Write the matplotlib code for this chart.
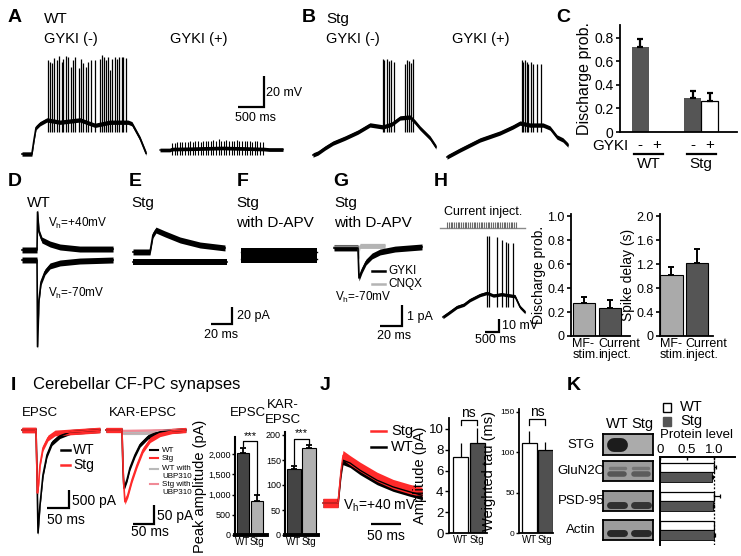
import numpy as np
import matplotlib
matplotlib.use("Agg")
import matplotlib.pyplot as plt
import matplotlib.transforms as mtransforms
from matplotlib.patches import Rectangle
from matplotlib.lines import Line2D

plt.rcParams['font.family'] = ['Liberation Sans', 'DejaVu Sans']
plt.rcParams['mathtext.fontset'] = 'custom'
plt.rcParams['mathtext.rm'] = 'Liberation Sans'

W, H = 741, 556

# ---------------- values ----------------
# A  WT: membrane potential (mV above rest) vs time (ms)
a_wt_t = [0, 190, 230, 270, 345, 480, 730, 1115, 1405, 1690, 2040, 2115, 2270, 2385]
a_wt_v = [0, 0, 9, 17, 19.5, 22, 20.5, 22, 18.5, 20.5, 20.5, 19.5, 10, 0.5]
a_wt_spk = [494, 538, 583, 621, 667, 712, 763, 794, 846, 890, 937, 975, 1019, 1090,
            1135, 1179, 1231, 1275, 1321, 1404, 1500, 1533, 1577, 1615, 1648, 1692,
            1737, 1788, 1821, 1865, 1917, 1948, 2000]
a_wt_peak = [60.6, 59.3, 58.7, 61.9, 60.6, 63.2, 59.3, 61.3, 63.2, 62.6, 56.1, 60.6,
             62.6, 55.5, 61.3, 58.7, 56.1, 59.3, 60.6, 60.6, 61.3, 63.9, 62.6, 60.6,
             62.6, 54.2, 61.3, 62.6, 61.3, 62.6, 62.6, 62.6, 61.9]
a_wt_trough = 14

# A  WT + GYKI: baseline and stimulus-locked deflections
a_gp_t = [0, 190, 230, 600, 1200, 1800, 2000, 2100, 2365]
a_gp_v = [0, 0, 0.6, 0.8, 1.3, 0.8, 0.6, 0.3, 0.3]
a_gp_art = [231, 281, 330, 380, 430, 480, 530, 579, 629, 679, 729, 779, 828, 878,
            928, 978, 1028, 1077, 1127, 1177, 1227, 1277, 1326, 1376, 1426, 1476,
            1526, 1575, 1625, 1675, 1725, 1775, 1824, 1874, 1924, 1974]
a_gp_top = [4.5, 4.8, 5.2, 5.2, 5.4, 5.4, 5.2, 5.6, 5.4, 5.6, 5.8, 5.4, 5.6, 6.0,
            5.6, 5.8, 6.2, 5.6, 6.9, 5.8, 6.0, 6.2, 5.6, 5.8, 6.0, 6.4, 5.8, 5.6,
            6.0, 5.8, 5.6, 5.4, 5.8, 5.6, 5.2, 5.4]
a_gp_low = -3.5

# B  Stg, GYKI(-)
b_m_t = [0, 96, 231, 385, 615, 865, 1096, 1346, 1519, 1673, 1865, 1961, 2058, 2250, 2365]
b_m_v = [0, 1.3, 4.5, 7.7, 10.9, 14.8, 19.4, 18.1, 20, 23.9, 24.5, 21.3, 17.4, 11, 5.2]
b_m_spk = [1340, 1371, 1417, 1455, 1500, 1564, 1769, 1801, 1846, 1878, 1917]
b_m_peak = [62, 61, 62, 60.6, 61.3, 60, 58.7, 61.3, 60.6, 59.3, 61.9]
b_m_trough = 15
# B  Stg, GYKI(+)
b_p_t = [0, 250, 635, 1019, 1269, 1404, 1596, 1846, 1980, 2115, 2230, 2327]
b_p_v = [0, 4.5, 11, 15.5, 19.4, 21.9, 20.6, 20.6, 18.7, 12.9, 11, 7.7]
b_p_spk = [1436, 1468, 1500, 1532, 1564, 1609, 1660, 1724, 1801]
b_p_peak = [62.6, 61.3, 62.6, 61.3, 60, 61.3, 60, 60, 60]
b_p_trough = 16

# C  discharge probability
c_gyki = ['-', '+', '-', '+']
c_geno = ['WT', 'Stg']
c_prob = [0.72, 0.0, 0.29, 0.26]
c_err = [0.07, 0.0, 0.06, 0.07]

# D-F  synaptic currents (pA) vs time (ms)
d_p40_t = [0, 14.3, 14.8, 16.2, 19, 26.7, 36.2, 55, 86.7]
d_p40_v = [11.8, 11.8, 56.5, 33, 23.5, 18.8, 15.3, 12.9, 12.9]
d_m70_t = [0, 14.3, 14.8, 16.2, 18.1, 21.9, 26.7, 36.2, 55, 86.7]
d_m70_v = [0, 0, -102, -47, -26, -14, -7, -3.5, -1.2, 0]
e_p40_t = [0, 16.2, 19, 21.9, 30.5, 44.8, 63.8, 87.6]
e_p40_v = [11.8, 11.8, 31.8, 37.6, 33, 25.9, 20, 16.5]
e_m70_t = [0, 89.5]
e_m70_v = [0, 0]
f_t = [0, 72]
f_a_v = [9.4, 9.4]
f_b_v = [1.2, 1.2]

# G  Stg with D-APV (pA)
g_gyki_t = [0, 21.8, 22.7, 25.5, 29.1, 34.6, 41.9, 55.5, 80]
g_gyki_v = [0, 0, -1.43, -1.05, -0.67, -0.38, -0.19, -0.05, 0.05]
g_cnqx_t = [0, 21.8, 22.4, 22.9, 23.6, 46.4]
g_cnqx_v = [0.05, 0.05, -0.5, -0.1, 0.1, 0.1]

# H  current injection
h_t = [0, 200, 500, 750, 964, 1321, 1570, 1800, 2100, 2400, 2570, 2750, 2929]
h_v = [0, 3, 7.7, 9.5, 13, 16.9, 18.5, 16.5, 17.5, 16.5, 16, 7.7, 3.8]
h_spk = [1561, 1654, 1918, 2096, 2250, 2332, 2489]
h_peak = [62.3, 62.3, 61.3, 59.2, 57.9, 56.7, 56.7]
h_trough = 8
h_pulses = [143, 206, 269, 333, 396, 459, 522, 585, 649, 712, 775, 838, 901, 965,
            1028, 1091, 1154, 1217, 1281, 1344, 1407, 1470, 1533, 1597, 1660, 1723,
            1786, 1849, 1913, 1976, 2039, 2102, 2165, 2229, 2292, 2355, 2418, 2481,
            2545, 2608]
h_cond = ['MF-\nstim.', 'Current\ninject.']
h_prob = [0.28, 0.23]
h_prob_err = [0.05, 0.07]
h_delay = [1.02, 1.22]
h_delay_err = [0.13, 0.23]

# I  CF-PC EPSCs (pA vs ms)
i_wt_t = [0, 31.8, 34, 36.4, 40.9, 47.7, 56.8, 68, 86, 109, 177]
i_wt_v = [0, 0, -1111, -2861, -2083, -1250, -694, -361, -167, -56, 0]
i_stg_t = [0, 31.8, 33.5, 35, 37.5, 40.9, 47.7, 59, 75, 177]
i_stg_v = [0, 0, -900, -1750, -1528, -972, -500, -222, -83, 0]
ik_wt_t = [0, 38, 40.5, 42.8, 50, 57, 69, 81, 100, 128.5, 190]
ik_wt_v = [0, 0, -105, -153, -131, -100, -66, -39, -18, -5, 0]
ik_stg_t = [0, 38, 41.6, 45, 52, 62, 74, 88, 105, 128.5, 157, 190]
ik_stg_v = [0, 0, -131, -189, -171, -131, -92, -53, -26, -10.5, -2.6, 0]
ik_wtu_t = [0, 38, 40, 93, 128, 190]
ik_wtu_v = [0, 0, -6, -6, -3, 0]
ik_stgu_t = [0, 38, 40, 100, 190]
ik_stgu_v = [0, 0, -3, -2, 0]
i_geno = ['WT', 'Stg']
i_epsc = [2020, 850]
i_epsc_err = [130, 150]
i_kar = [133, 175]
i_kar_err = [6, 6]

# J  Vh = +40 mV currents (pA vs ms)
j_t = [0, 25, 30, 33.3, 45, 61.7, 90, 116.7, 145, 165]
j_stg_v = [0, 0, 5.9, 8.6, 7.7, 6.5, 4.7, 3.4, 2.5, 2.0]
j_wt_v = [0, 0, 5.4, 7.7, 7.2, 5.9, 4.1, 2.9, 2.0, 1.4]
j_amp = [7.3, 8.6]
j_amp_err = [1.3, 1.5]
j_tau = [112, 103]
j_tau_err = [15, 10]

# K  western blots and quantification
k_blots = ['STG', 'GluN2C', 'PSD-95', 'Actin']
k_band_wt = [1.0, 0.55, 0.85, 0.9]
k_band_stg = [0.0, 0.5, 0.8, 0.9]
k_band2_wt = [0, 0.3, 0, 0]
k_band2_stg = [0, 0.3, 0, 0]
k_quant = ['GluN2C', 'PSD-95', 'Actin']
k_lvl_wt = [1.0, 1.0, 1.0]
k_lvl_stg = [0.96, 0.98, 1.0]
k_err_wt = [0.03, 0.12, 0.0]
k_err_stg = [0.02, 0.03, 0.02]

DARK = '#555555'
LIGHT = '#aaaaaa'
RED = '#ff2a2a'

fig = plt.figure(figsize=(W / 100, H / 100), dpi=100)


def txt(x, y, s, size=11, **kw):
    kw.setdefault('va', 'center')
    kw.setdefault('ha', 'left')
    fig.text(x / W, 1 - y / H, s, fontsize=size, **kw)


def letter(x, y, s):
    txt(x, y, s, size=14, weight='bold')


def trace_ax(x0, y0, x1, y1, ox, oy, sx, sy):
    # pixel box, pixel position of data origin, data units per pixel
    ax = fig.add_axes([x0 / W, 1 - y1 / H, (x1 - x0) / W, (y1 - y0) / H])
    ax.set_xlim((x0 - ox) * sx, (x1 - ox) * sx)
    ax.set_ylim((oy - y1) * sy, (oy - y0) * sy)
    ax.axis('off')
    return ax


def noisy(ax, t, v, band, color, lw=1.0):
    t = np.asarray(t, float)
    v = np.asarray(v, float)
    ax.fill_between(t, v - band, v + band, color=color, lw=0)
    ax.plot(t, v, color=color, lw=lw)


def spikes(ax, times, peaks, trough, lw=0.9):
    ax.vlines(times, trough, peaks, color='k', lw=lw)


def scale_bar(xc, yc, sx, sy, tlen, vlen, lw=1.6):
    w = tlen / sx
    h = vlen / sy
    ax = trace_ax(xc - w - 3, yc - h - 3, xc + 3, yc + 3, xc, yc, sx, sy)
    if vlen:
        ax.plot([-tlen, 0, 0], [0, 0, vlen], color='k', lw=lw,
                solid_joinstyle='miter', solid_capstyle='butt')
    else:
        ax.plot([-tlen, 0], [0, 0], color='k', lw=lw, solid_capstyle='butt')


def hline(x0, x1, y, color='k', lw=1.6):
    fig.add_artist(Line2D([x0 / W, x1 / W], [1 - y / H] * 2, color=color, lw=lw))


def bar_ax(x0, y0, x1, y1, xlim, ylim, lw=1.3):
    ax = fig.add_axes([x0 / W, 1 - y1 / H, (x1 - x0) / W, (y1 - y0) / H])
    ax.set_xlim(*xlim)
    ax.set_ylim(*ylim)
    ax.spines[['top', 'right']].set_visible(False)
    ax.spines[['left', 'bottom']].set_linewidth(lw)
    ax.patch.set_alpha(0)
    return ax


def up_err(ax, x, v, e, cap=2.5, lw=1.4):
    keep = [i for i in range(len(x)) if e[i] > 0]
    xs = [x[i] for i in keep]
    vs = [v[i] for i in keep]
    es = [e[i] for i in keep]
    ax.errorbar(xs, vs, yerr=[np.zeros(len(es)), es], fmt='none', ecolor='k',
                elinewidth=lw, capsize=cap, capthick=lw, clip_on=False)


def bracket(ax, x1, x2, ytop, y1, y2, label, size):
    ax.plot([x1, x1, x2, x2], [y1, ytop, ytop, y2], color='k', lw=0.9, clip_on=False)
    ax.text((x1 + x2) / 2, ytop, label, ha='center', va='bottom', fontsize=size)


# ================= A =================
letter(8, 18, 'A')
txt(44, 19, 'WT', 11)
txt(44, 39, 'GYKI (-)', 10.5)
txt(170, 39, 'GYKI (+)', 10.5)
sxA, syA = 500 / 26, 20 / 31
ax = trace_ax(18, 50, 150, 160, 22, 154, sxA, syA)
noisy(ax, a_wt_t, a_wt_v, 1.4, 'k', 1.2)
spikes(ax, a_wt_spk, a_wt_peak, a_wt_trough)
ax = trace_ax(156, 130, 290, 160, 160, 150, sxA, syA)
noisy(ax, a_gp_t, a_gp_v, 1.2, 'k', 1.0)
ax.vlines(a_gp_art, a_gp_low, a_gp_top, color='k', lw=0.8)
scale_bar(264, 107, sxA, syA, 500, 20)
txt(266, 93, '20 mV', 9)
txt(235, 118, '500 ms', 9)

# ================= B =================
letter(302, 18, 'B')
txt(326, 19, 'Stg', 11)
txt(326, 39, 'GYKI (-)', 10.5)
txt(452, 39, 'GYKI (+)', 10.5)
ax = trace_ax(309, 50, 440, 162, 313, 155, sxA, syA)
noisy(ax, b_m_t, b_m_v, 1.4, 'k', 1.2)
spikes(ax, b_m_spk, b_m_peak, b_m_trough)
ax = trace_ax(443, 50, 572, 162, 447, 157, sxA, syA)
noisy(ax, b_p_t, b_p_v, 1.4, 'k', 1.2)
spikes(ax, b_p_spk, b_p_peak, b_p_trough)

# ================= C =================
letter(556, 17, 'C')
ax = bar_ax(620, 25, 737, 132, (-1.18, 5.7), (0, 0.91))
c_x = [0, 1, 3.1, 4.1]
c_col = [DARK, 'white', DARK, 'white']
ax.bar(c_x, c_prob, width=1.0, color=c_col, edgecolor=['none', 'k', 'none', 'k'], lw=0.9)
up_err(ax, c_x, c_prob, c_err, cap=2.5, lw=1.6)
ax.set_xticks([])
ax.set_yticks([0, 0.2, 0.4, 0.6, 0.8])
ax.set_yticklabels(['0', '0.2', '0.4', '0.6', '0.8'])
ax.tick_params(axis='y', labelsize=10, length=3, width=1.2, pad=1.5)
ax.set_ylabel('Discharge prob.', fontsize=11.5, labelpad=2)
tr = mtransforms.blended_transform_factory(ax.transData, fig.transFigure)
txt(592, 146, 'GYKI', 11)
for xi, s in zip(c_x, c_gyki):
    ax.text(xi, 1 - 145 / H, s, transform=tr, ha='center', va='center', fontsize=11)
for gi, g in enumerate(c_geno):
    xa, xb = c_x[2 * gi] - 0.35, c_x[2 * gi + 1] + 0.35
    ax.plot([xa, xb], [1 - 154 / H] * 2, transform=tr, color='k', lw=1.6, clip_on=False)
    ax.text((c_x[2 * gi] + c_x[2 * gi + 1]) / 2, 1 - 164 / H, g, transform=tr,
            ha='center', va='center', fontsize=11)

# ================= D-F =================
sxD, syD = 20 / 21, 20 / 17
letter(8, 182, 'D')
txt(27, 203, 'WT')
ax = trace_ax(18, 205, 118, 352, 22, 260, sxD, syD)
noisy(ax, d_p40_t, d_p40_v, 3.5, 'k', 1.2)
noisy(ax, d_m70_t, d_m70_v, 3.5, 'k', 1.2)
txt(48, 223, r'V$_{\mathregular{h}}$=+40mV', 8.5)
txt(48, 293, r'V$_{\mathregular{h}}$=-70mV', 8.5)

letter(129, 182, 'E')
txt(131, 203, 'Stg')
ax = trace_ax(129, 215, 230, 275, 133, 262, sxD, syD)
noisy(ax, e_p40_t, e_p40_v, 3.5, 'k', 1.2)
noisy(ax, e_m70_t, e_m70_v, 3.5, 'k', 1.2)

letter(237, 182, 'F')
txt(236, 203, 'Stg')
txt(236, 223, 'with D-APV')
ax = trace_ax(238, 235, 320, 272, 241, 260, sxD, syD)
noisy(ax, f_t, f_a_v, 4.5, 'k', 1.0)
noisy(ax, f_t, f_b_v, 4.5, 'k', 1.0)
scale_bar(232, 324, sxD, syD, 20, 20)
txt(237, 316, '20 pA', 9)
txt(204, 335, '20 ms', 9)

# ================= G =================
sxG, syG = 20 / 22, 1 / 21
letter(333, 182, 'G')
txt(334, 203, 'Stg')
txt(334, 223, 'with D-APV')
ax = trace_ax(330, 235, 426, 285, 334, 248, sxG, syG)
noisy(ax, g_cnqx_t, g_cnqx_v, 0.12, '#b4b4b4', 1.0)
noisy(ax, g_gyki_t, g_gyki_v, 0.14, 'k', 1.2)
hline(372, 385, 271, 'k', 1.8)
txt(388, 271, 'GYKI', 8.5)
hline(372, 385, 284, '#b4b4b4', 1.8)
txt(388, 284, 'CNQX', 8.5)
txt(335, 297, r'V$_{\mathregular{h}}$=-70mV', 8.5)
scale_bar(402, 326, sxG, syG, 20, 1)
txt(407, 317, '1 pA', 9)
txt(377, 336, '20 ms', 9)

# ================= H =================
sxH, syH = 500 / 14, 10 / 13
letter(434, 182, 'H')
txt(483, 212, 'Current inject.', 9, ha='center')
ax = trace_ax(436, 216, 530, 232, 443, 228, sxH, 1.0)
ax.plot([-107, 2929], [0, 0], color='#8a8a8a', lw=1.0)
ax.vlines(h_pulses, 0, 6, color='#6a6a6a', lw=0.8)
ax = trace_ax(438, 230, 530, 322, 443, 317, sxH, syH)
noisy(ax, h_t, h_v, 1.3, 'k', 1.2)
spikes(ax, h_spk, h_peak, h_trough)
scale_bar(499, 332, sxH, syH, 500, 10)
txt(502, 326, '10 mV', 9)
txt(475, 340, '500 ms', 9)

for (x0, x1, vals, errs, lab, ylim, ticks, tlabs, xl) in [
        (571, 630, h_prob, h_prob_err, 'Discharge prob.', (0, 1.02),
         [0, 0.2, 0.4, 0.6, 0.8, 1.0], ['0', '0.2', '0.4', '0.6', '0.8', '1.0'], (-0.5, 1.77)),
        (660, 713, h_delay, h_delay_err, 'Spike delay (s)', (0, 2.04),
         [0, 0.4, 0.8, 1.2, 1.6, 2.0], ['0', '0.4', '0.8', '1.2', '1.6', '2.0'], (-0.45, 1.63))]:
    ax = bar_ax(x0, 214, x1, 336, xl, ylim)
    ax.bar([0, 1], vals, width=0.88, color=[LIGHT, DARK], edgecolor='k', lw=0.8)
    up_err(ax, [0, 1], vals, errs, cap=2.2, lw=1.4)
    ax.set_xticks([])
    ax.set_yticks(ticks)
    ax.set_yticklabels(tlabs)
    ax.tick_params(axis='y', labelsize=9, length=3, width=1.2, pad=1.5)
    ax.set_ylabel(lab, fontsize=10, labelpad=1)
    trb = mtransforms.blended_transform_factory(ax.transData, fig.transFigure)
    for xi, s in zip([-0.45, 0.55], h_cond):
        ax.text(xi, 1 - 338 / H, s, transform=trb, ha='left', va='top',
                fontsize=9, linespacing=0.85)

# ================= I =================
letter(11, 385, 'I')
txt(33, 385, 'Cerebellar CF-PC synapses', 12)
txt(22, 413, 'EPSC', 9.5)
txt(109, 413, 'KAR-EPSC', 9.5)
sxI, syI = 50 / 22, 500 / 18
ax = trace_ax(18, 420, 104, 540, 22, 430, sxI, syI)
noisy(ax, i_wt_t, i_wt_v, 70, 'k', 1.2)
noisy(ax, i_stg_t, i_stg_v, 80, RED, 1.2)
hline(61, 70, 450, 'k', 1.8)
txt(73, 450, 'WT', 10)
hline(61, 70, 465, RED, 1.8)
txt(73, 465, 'Stg', 10)
scale_bar(69, 508, sxI, syI, 50, 500)
txt(72, 501, '500 pA', 10)
txt(47, 520, '50 ms', 10)

sxK, syK = 50 / 21, 50 / 19
ax = trace_ax(102, 420, 190, 510, 106, 430, sxK, syK)
noisy(ax, ik_wtu_t, ik_wtu_v, 6, '#b9b9b9', 1.0)
noisy(ax, ik_stgu_t, ik_stgu_v, 5, '#f08a96', 1.0)
noisy(ax, ik_wt_t, ik_wt_v, 6, 'k', 1.2)
noisy(ax, ik_stg_t, ik_stg_v, 7, RED, 1.2)
for yy, col, s in [(450, 'k', 'WT'), (458, RED, 'Stg'), (469, '#b9b9b9', 'WT with'),
                   (484, '#f08a96', 'Stg with')]:
    hline(150, 158, yy, col, 1.5)
    txt(162, yy, s, 5.8)
txt(162, 477, 'UBP310', 5.8)
txt(162, 492, 'UBP310', 5.8)
scale_bar(154, 524, sxK, syK, 50, 50)
txt(157, 516, '50 pA', 10)
txt(131, 532, '50 ms', 10)

# I bar charts
txt(248, 413, 'EPSC', 9.5, ha='center')
ax = bar_ax(235, 437, 267, 535, (-0.57, 1.71), (0, 2420), lw=1.5)
ax.spines['bottom'].set_linewidth(2.8)
ax.bar([0, 1], i_epsc, width=0.86, color=['#444444', '#b0b0b0'], edgecolor='k', lw=0.8)
up_err(ax, [0, 1], i_epsc, i_epsc_err, cap=2, lw=1.3)
ax.set_yticks([0, 500, 1000, 1500, 2000])
ax.set_yticklabels(['0', '500', '1,000', '1,500', '2,000'])
ax.set_xticks([0, 1])
ax.set_xticklabels(i_geno)
ax.tick_params(axis='y', labelsize=6.5, length=2, width=1, pad=1)
ax.tick_params(axis='x', labelsize=7, length=0, pad=1.5)
ax.set_ylabel('Peak amplitude (pA)', fontsize=10.5, labelpad=1)
bracket(ax, 0, 1, 2310, i_epsc[0] + i_epsc_err[0] + 40, i_epsc[1] + i_epsc_err[1] + 20, '***', 8)

txt(283, 405, 'KAR-', 9.5, ha='center')
txt(283, 420, 'EPSC', 9.5, ha='center')
ax = bar_ax(285, 432, 318, 535, (-0.6, 1.6), (0, 206), lw=1.5)
ax.spines['bottom'].set_linewidth(2.8)
ax.bar([0, 1], i_kar, width=0.93, color=['#444444', '#b0b0b0'], edgecolor='k', lw=0.8)
up_err(ax, [0, 1], i_kar, i_kar_err, cap=2, lw=1.3)
ax.set_yticks([0, 50, 100, 150, 200])
ax.set_xticks([0, 1])
ax.set_xticklabels(i_geno)
ax.tick_params(axis='y', labelsize=6.5, length=2, width=1, pad=1)
ax.tick_params(axis='x', labelsize=7, length=0, pad=1.5)
bracket(ax, 0, 1, 193, i_kar[0] + i_kar_err[0] + 3, i_kar[1] + i_kar_err[1] + 2, '***', 8)

# ================= J =================
letter(320, 385, 'J')
sxJ, syJ = 50 / 30, 0.18
ax = trace_ax(320, 440, 426, 515, 323, 503, sxJ, syJ)
noisy(ax, j_t, j_wt_v, 0.8, 'k', 1.0)
noisy(ax, j_t, j_stg_v, 0.85, RED, 1.0)
hline(371, 386, 431, RED, 1.8)
txt(391, 431, 'Stg', 10.5)
hline(371, 386, 447, 'k', 1.8)
txt(391, 447, 'WT', 10.5)
txt(343, 506, r'V$_{\mathregular{h}}$=+40 mV', 10)
scale_bar(401, 524, sxJ, syJ, 50, 0)
txt(386, 536, '50 ms', 10, ha='center')

ax = bar_ax(449, 418, 487, 533, (-0.7, 1.6), (0, 11.05))
ax.bar([0, 1], j_amp, width=0.91, color=['white', '#505050'], edgecolor='k', lw=0.9)
up_err(ax, [0, 1], j_amp, j_amp_err, cap=0, lw=0.9)
ax.set_yticks([0, 2, 4, 6, 8, 10])
ax.set_xticks([0, 1])
ax.set_xticklabels(i_geno)
ax.tick_params(axis='y', labelsize=9.5, length=3, width=1, pad=1)
ax.tick_params(axis='x', labelsize=7, length=0, pad=1.5)
ax.set_ylabel('Amplitude (pA)', fontsize=10.5, labelpad=1)
bracket(ax, 0, 1, 10.85, 10.35, 10.35, 'ns', 10)

ax = bar_ax(519, 409, 553, 533, (-0.66, 1.5), (0, 153.7))
ax.bar([0, 1], j_tau, width=0.94, color=['white', '#505050'], edgecolor='k', lw=0.9)
up_err(ax, [0, 1], j_tau, j_tau_err, cap=0, lw=0.9)
ax.set_yticks([0, 50, 100, 150])
ax.set_xticks([0, 1])
ax.set_xticklabels(i_geno)
ax.tick_params(axis='y', labelsize=6, length=2, width=1, pad=1)
ax.tick_params(axis='x', labelsize=7, length=0, pad=1.5)
ax.set_ylabel('Weighted tau (ms)', fontsize=10.5, labelpad=3)
bracket(ax, 0, 1, 141, 134, 134, 'ns', 10)

# ================= K =================
letter(567, 385, 'K')
txt(617, 424, 'WT', 10.5, ha='center')
txt(642, 424, 'Stg', 10.5, ha='center')
blot_rows = [(434, 455), (461, 481), (491, 511), (520, 540)]
blot_bg = ['#ababab', '#9c9c9c', '#989898', '#9c9c9c']
band_y = [0.5, 0.36, 0.3, 0.35]
band_lw = [10, 4.0, 5.0, 5.0]
band_half = [0.14, 0.28, 0.28, 0.28]


def band_color(bg, dens):
    b = np.array(matplotlib.colors.to_rgb(bg))
    d = np.array(matplotlib.colors.to_rgb('#1c1c1c'))
    return tuple(b + (d - b) * dens)


for i, name in enumerate(k_blots):
    y0, y1 = blot_rows[i]
    ax = fig.add_axes([603 / W, 1 - y1 / H, 50 / W, (y1 - y0) / H])
    ax.set_xlim(0, 2)
    ax.set_ylim(0, 1)
    ax.set_xticks([])
    ax.set_yticks([])
    ax.set_facecolor(blot_bg[i])
    for s in ax.spines.values():
        s.set_linewidth(1.3)
    for cx, dens, dens2 in [(0.56, k_band_wt[i], k_band2_wt[i]),
                            (1.5, k_band_stg[i], k_band2_stg[i])]:
        if dens > 0:
            ax.plot([cx - band_half[i], cx + band_half[i]], [band_y[i]] * 2,
                    color=band_color(blot_bg[i], dens), lw=band_lw[i],
                    solid_capstyle='round')
        if dens2 > 0:
            ax.plot([cx - 0.3, cx + 0.3], [0.64] * 2,
                    color=band_color(blot_bg[i], dens2), lw=2.5,
                    solid_capstyle='round')
    txt(581, (y0 + y1) / 2, name, 9.5, ha='center')

fig.add_artist(Rectangle((663 / W, 1 - 412 / H), 8 / W, 9 / H, transform=fig.transFigure,
                         facecolor='white', edgecolor='k', lw=1))
fig.add_artist(Rectangle((663 / W, 1 - 426 / H), 8 / W, 9 / H, transform=fig.transFigure,
                         facecolor=DARK, edgecolor=DARK, lw=1))
txt(680, 407, 'WT', 10.5)
txt(680, 421, 'Stg', 10.5)
txt(696, 435, 'Protein level', 9.5, ha='center')

ax = fig.add_axes([660 / W, 1 - 545 / H, 75 / W, 88 / H])
ax.patch.set_alpha(0)
ax.set_xlim(0, 1.39)
ax.set_ylim(2.52, -0.52)
g = np.arange(len(k_quant))
ax.barh(g - 0.16, k_lvl_wt, height=0.29, color='white', edgecolor='k', lw=0.9)
ax.barh(g + 0.17, k_lvl_stg, height=0.33, color=DARK, edgecolor='k', lw=0.6)
for yy, vv, ee in zip(list(g - 0.16) + list(g + 0.17), k_lvl_wt + k_lvl_stg,
                      k_err_wt + k_err_stg):
    if ee > 0:
        ax.errorbar([vv], [yy], xerr=[[0], [ee]], fmt='none', ecolor='k',
                    elinewidth=0.9, capsize=1.2, capthick=0.9)
ax.axvline(1.0, color='k', lw=0.9, ls=(0, (1.5, 1.5)))
ax.spines[['bottom', 'right']].set_visible(False)
ax.spines[['top', 'left']].set_linewidth(1.4)
ax.xaxis.tick_top()
ax.set_xticks([0, 0.5, 1.0])
ax.set_xticklabels(['0', '0.5', '1.0'])
ax.tick_params(axis='x', labelsize=9.5, length=2.5, width=1, direction='in', pad=0.5)
ax.set_yticks([])

fig.savefig('out.png', dpi=100)
